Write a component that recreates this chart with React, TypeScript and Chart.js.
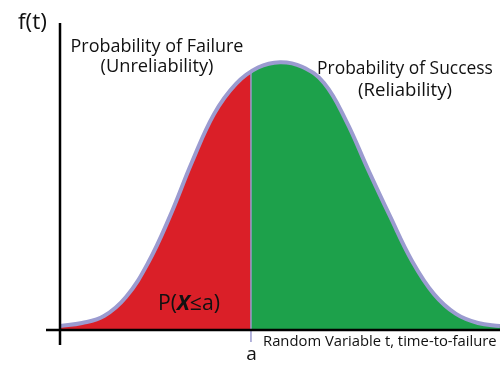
import React, { useEffect, useRef } from "react";
import { Chart, registerables } from "chart.js";

Chart.register(...registerables);

// t (time, arbitrary units 0..100) and density f(t) (peak = 1)
const T_VALUES = [0, 5, 10, 15, 20, 25, 30, 35, 40, 45, 50, 55, 60, 65, 70, 75, 80, 85, 90, 95, 100];
const F_VALUES = [0.015, 0.026, 0.052, 0.123, 0.25, 0.425, 0.627, 0.806, 0.919, 0.98, 1.0, 0.983, 0.922, 0.782, 0.6, 0.425, 0.258, 0.134, 0.06, 0.026, 0.015];
const A_VALUE = 43.4;
const A_HEIGHT = 0.965;

const LABEL_Y = "f(t)";
const LABEL_X = "Random Variable t, time-to-failure";
const LABEL_A = "a";
const LEFT_TITLE = ["Probability of Failure", "(Unreliability)"];
const RIGHT_TITLE = ["Probability of Success", "(Reliability)"];

const RED = "#DA1F28";
const GREEN = "#1DA14B";
const PURPLE = "#9B9BD0";
const FONT = "'Open Sans', 'Noto Sans', sans-serif";

function fitText(ctx: CanvasRenderingContext2D, text: string, cx: number, base: number, targetW: number, weight = "normal") {
  ctx.font = `${weight} 20px ${FONT}`;
  const w = ctx.measureText(text).width;
  const size = (20 * targetW) / w;
  ctx.font = `${weight} ${size}px ${FONT}`;
  ctx.textAlign = "center";
  ctx.textBaseline = "alphabetic";
  ctx.fillText(text, cx, base);
}

const overlay = {
  id: "overlay",
  beforeDatasetDraw(chart: any) {
    // vertical line at a, drawn under the curve stroke
    const ctx: CanvasRenderingContext2D = chart.ctx;
    const xs = chart.scales.x;
    const ys = chart.scales.y;
    const ax = xs.getPixelForValue(A_VALUE);
    const ay = ys.getPixelForValue(A_HEIGHT);
    const y0 = ys.getPixelForValue(0);
    ctx.save();
    ctx.strokeStyle = PURPLE;
    ctx.lineWidth = 1.5;
    ctx.beginPath();
    ctx.moveTo(ax, ay);
    ctx.lineTo(ax, y0 + 12);
    ctx.stroke();
    ctx.restore();
  },
  afterDatasetsDraw(chart: any) {
    const ctx: CanvasRenderingContext2D = chart.ctx;
    const xs = chart.scales.x;
    const ys = chart.scales.y;
    const x0 = xs.getPixelForValue(0);
    const y0 = ys.getPixelForValue(0);
    const ax = xs.getPixelForValue(A_VALUE);
    ctx.save();
    // axes
    ctx.strokeStyle = "#000";
    ctx.lineWidth = 2.5;
    ctx.beginPath();
    ctx.moveTo(x0 - 14, y0);
    ctx.lineTo(xs.getPixelForValue(100), y0);
    ctx.moveTo(x0, 23);
    ctx.lineTo(x0, y0 + 15);
    ctx.stroke();
    // texts
    ctx.fillStyle = "#111";
    fitText(ctx, LABEL_Y, 32.5, 29, 29);
    fitText(ctx, LEFT_TITLE[0], 157, 52, 173);
    fitText(ctx, LEFT_TITLE[1], 157, 72, 113);
    fitText(ctx, RIGHT_TITLE[0], 405, 74, 176);
    fitText(ctx, RIGHT_TITLE[1], 405, 96, 94);
    ctx.font = `normal 19px ${FONT}`;
    ctx.textAlign = "center";
    ctx.fillText(LABEL_A, ax + 0.5, 360);
    ctx.textAlign = "left";
    ctx.font = `normal 14px ${FONT}`;
    const w = ctx.measureText(LABEL_X).width;
    const s = (14 * 234) / w;
    ctx.font = `normal ${s}px ${FONT}`;
    ctx.fillText(LABEL_X, 263, 346);
    // P(X≤a)
    const parts: [string, string][] = [["P(", "normal"], ["X", "italic bold"], ["≤a)", "normal"]];
    const size = 18;
    let total = 0;
    const widths = parts.map(([t, st]) => {
      ctx.font = `${st} ${size}px ${FONT}`;
      const ww = ctx.measureText(t).width;
      total += ww;
      return ww;
    });
    const scale = 62 / total;
    let px = 189 - 31;
    parts.forEach(([t, st], i) => {
      ctx.font = `${st} ${size * scale}px ${FONT}`;
      ctx.fillText(t, px, 310);
      px += widths[i] * scale;
    });
    ctx.restore();
  },
};

function splitFill(c: any) {
  const chart = c.chart;
  const xs = chart && chart.scales && chart.scales.x;
  if (!xs || !chart.width) return RED;
  const ax = xs.getPixelForValue(A_VALUE);
  if (!isFinite(ax)) return RED;
  const p = Math.min(1, Math.max(0, ax / chart.width));
  const g = chart.ctx.createLinearGradient(0, 0, chart.width, 0);
  g.addColorStop(0, RED);
  g.addColorStop(p, RED);
  g.addColorStop(p, GREEN);
  g.addColorStop(1, GREEN);
  return g;
}

export default function App() {
  const ref = useRef<HTMLCanvasElement | null>(null);
  useEffect(() => {
    if (!ref.current) return;
    const chart = new Chart(ref.current, {
      type: "line",
      data: {
        datasets: [
          {
            data: T_VALUES.map((t, i) => ({ x: t, y: F_VALUES[i] })),
            borderColor: PURPLE,
            borderWidth: 4,
            pointRadius: 0,
            tension: 0.4,
            fill: "origin",
            backgroundColor: splitFill,
          } as any,
        ],
      },
      options: {
        animation: false,
        responsive: false,
        devicePixelRatio: 1,
        layout: { padding: { left: 60, right: 0, top: 22, bottom: 37 } },
        plugins: { legend: { display: false }, tooltip: { enabled: false } },
        scales: {
          x: { type: "linear", min: 0, max: 100, display: false },
          y: { type: "linear", min: 0, max: 1.15, display: false },
        },
      },
      plugins: [overlay],
    });
    return () => chart.destroy();
  }, []);
  return (
    <div style={{ position: "fixed", left: 0, top: 0, width: 500, height: 367, background: "#fff" }}>
      <canvas ref={ref} width={500} height={367} style={{ display: "block" }} />
    </div>
  );
}
